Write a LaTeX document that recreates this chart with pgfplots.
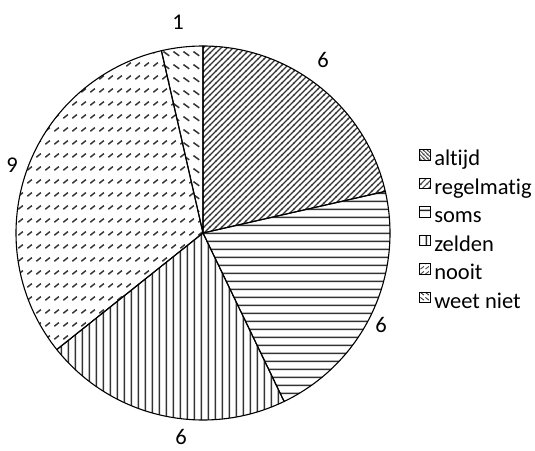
\documentclass[border=0pt]{standalone}
\usepackage{pgfplots}
\pgfplotsset{compat=1.18}
\usepackage{fontspec}
\setmainfont{Carlito}[Ligatures={NoCommon,NoContextual}]
\usetikzlibrary{patterns,patterns.meta}

\tikzdeclarepattern{name=pAlt, bounding box={(0pt,0pt) and (4pt,4pt)}, tile size={(4pt,4pt)},
  code={\draw[line width=0.9pt] (-1pt,5pt) -- (5pt,-1pt); \draw[line width=0.9pt] (-1pt,1pt) -- (1pt,-1pt); \draw[line width=0.9pt] (3pt,5pt) -- (5pt,3pt);}}
\tikzdeclarepattern{name=pReg, bounding box={(0pt,0pt) and (6.2pt,6.2pt)}, tile size={(6.2pt,6.2pt)},
  code={\draw[line width=1.2pt] (-1pt,-1pt) -- (7.2pt,7.2pt); \draw[line width=1.2pt] (-1pt,5.2pt) -- (1pt,7.2pt); \draw[line width=1.2pt] (5.2pt,-1pt) -- (7.2pt,1pt);}}
\tikzdeclarepattern{name=pSoms, bounding box={(0pt,0pt) and (10pt,7.6pt)}, tile size={(10pt,7.6pt)},
  code={\draw[line width=1.6pt] (-1pt,3.8pt) -- (11pt,3.8pt);}}
\tikzdeclarepattern{name=pZeld, bounding box={(0pt,0pt) and (7.3pt,10pt)}, tile size={(7.3pt,10pt)},
  code={\draw[line width=1.6pt] (3.65pt,-1pt) -- (3.65pt,11pt);}}
\tikzdeclarepattern{name=pNooit, bounding box={(0pt,0pt) and (9pt,13.3pt)}, tile size={(9pt,13.3pt)},
  code={\draw[line width=1.6pt] (1.5pt,5pt) -- (6.5pt,8.8pt);}}
\tikzdeclarepattern{name=pWeet, bounding box={(0pt,0pt) and (9.5pt,13pt)}, tile size={(9.5pt,13pt)},
  code={\draw[line width=1.6pt] (1.5pt,9pt) -- (7.5pt,4.5pt);}}
\tikzdeclarepattern{name=pWeetS, bounding box={(0pt,0pt) and (5pt,5pt)}, tile size={(5pt,5pt)},
  code={\draw[line width=1pt] (0.5pt,4pt) -- (4.5pt,1pt);}}
\tikzdeclarepattern{name=pNooitS, bounding box={(0pt,0pt) and (5pt,5pt)}, tile size={(5pt,5pt)},
  code={\draw[line width=1pt] (0.5pt,1pt) -- (4.5pt,4pt);}}

\begin{document}
\begin{tikzpicture}
\begin{axis}[
  x=1pt, y=1pt, xmin=0, xmax=535, ymin=0, ymax=450,
  hide axis, clip=false,
  legend style={draw=none, fill=none, at={(axis cs:419,301)}, anchor=north west,
    font=\fontsize{22.5}{26}\selectfont, row sep=7.2pt, inner sep=0pt,
    nodes={inner xsep=1pt, inner ysep=0pt, text height=15pt, text depth=5pt}},
  legend cell align=left,
  legend image code/.code={\draw[#1, line width=0.7pt] (0pt,0.5pt) rectangle (10.5pt,11pt); \path (13.5pt,0pt);},
]
% pie data: value / pattern (clockwise from 12 o'clock)
\pgfplotsextra{
  \gdef\total{0}
  \foreach \v/\p in {0/pAlt,6/pReg,6/pSoms,6/pZeld,9/pNooit,1/pWeet}{
    \pgfmathsetmacro\t{\total+\v}\xdef\total{\t}
  }
  \gdef\cum{0}
  \foreach \v/\p in {0/pAlt,6/pReg,6/pSoms,6/pZeld,9/pNooit,1/pWeet}{
    \ifdim\v pt>0pt
      \pgfmathsetmacro\a{90-\cum*360/\total}
      \pgfmathsetmacro\b{90-(\cum+\v)*360/\total}
      \draw[pattern=\p, pattern color=black!80, draw=black, line width=1.1pt, line join=round]
        (axis cs:203,217) -- ++(\a:187pt) arc[start angle=\a, end angle=\b, radius=187pt] -- cycle;
    \fi
    \pgfmathsetmacro\c{\cum+\v}\xdef\cum{\c}
  }
}
\addlegendimage{pattern=pAlt, pattern color=black!85}
\addlegendentry{altijd}
\addlegendimage{pattern=pReg, pattern color=black!70}
\addlegendentry{regelmatig}
\addlegendimage{pattern=pSoms, pattern color=black!85}
\addlegendentry{soms}
\addlegendimage{pattern=pZeld, pattern color=black!85}
\addlegendentry{zelden}
\addlegendimage{pattern=pNooitS, pattern color=black!70}
\addlegendentry{nooit}
\addlegendimage{pattern=pWeetS, pattern color=black!80}
\addlegendentry{weet niet}
\begin{scope}[every node/.style={font=\fontsize{22.5}{26}\selectfont, inner sep=0pt}]
\node at (axis cs:178,428) {1};
\node at (axis cs:323,390) {6};
\node at (axis cs:381,125) {6};
\node at (axis cs:181,13) {6};
\node at (axis cs:12,285) {9};
\end{scope}
\end{axis}
\pgfresetboundingbox
\path (0,0) rectangle (535pt,450pt);
\end{tikzpicture}
\end{document}
